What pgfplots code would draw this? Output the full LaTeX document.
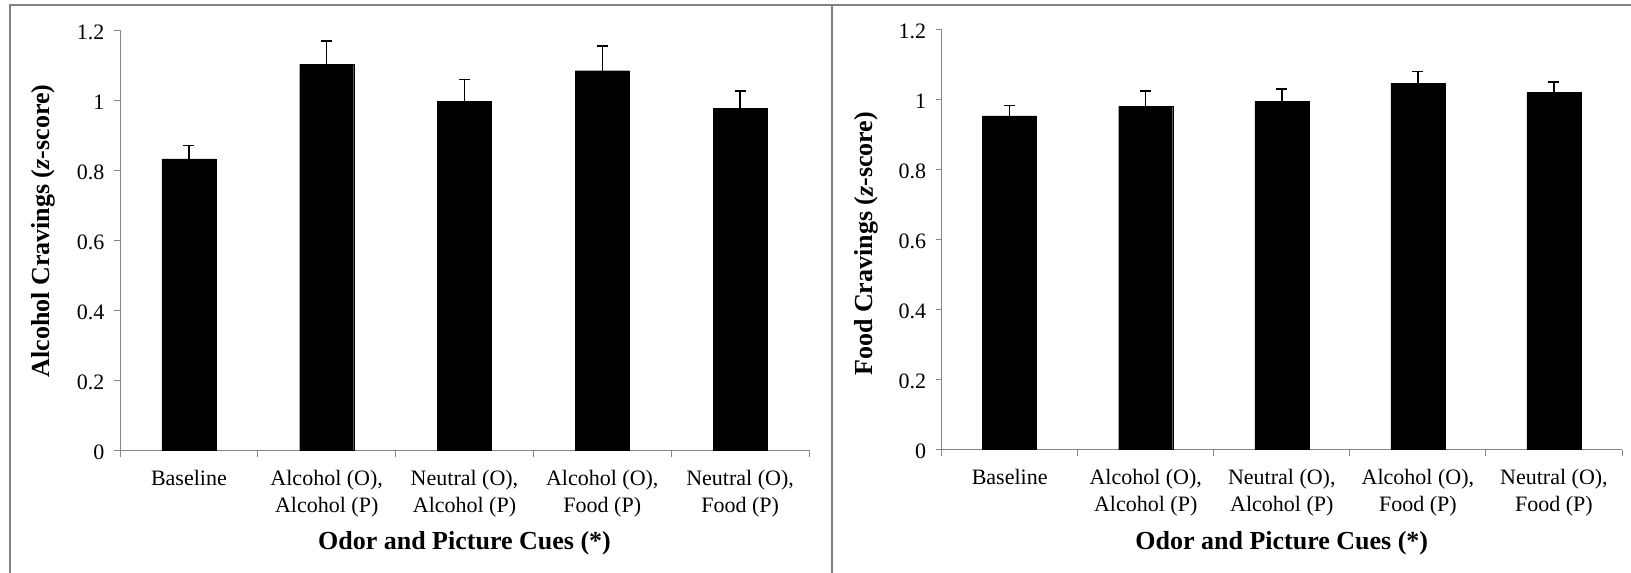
\documentclass[border=0pt]{standalone}
\usepackage{fontspec}
\setmainfont{Liberation Serif}
\usepackage{pgfplots}
\pgfplotsset{compat=1.18}
\definecolor{axgray}{RGB}{134,134,134}
\definecolor{boxgray}{RGB}{128,128,128}
\pgfplotsset{
  panel/.style={
    scale only axis, height=420pt,
    xmin=-0.5, xmax=4.5, ymin=0, ymax=1.2,
    axis x line*=bottom, axis y line*=left,
    axis line style={axgray, line width=1pt, -},
    every tick/.style={axgray, line width=1pt},
    tick align=outside,
    major tick length=6pt,
    ytick={0,0.2,0.4,0.6,0.8,1,1.2},
    yticklabels={0,0.2,0.4,0.6,0.8,1,1.2},
    xtick={-0.5,0.5,1.5,2.5,3.5,4.5},
    x tick label as interval,
    xticklabels={{Baseline},{Alcohol (O),\\Alcohol (P)},{Neutral (O),\\Alcohol (P)},{Alcohol (O),\\Food (P)},{Neutral (O),\\Food (P)}},
    ticklabel style={font=\fontsize{22}{27}\selectfont, black},
    xticklabel style={align=center, yshift=-10pt},
    yticklabel style={xshift=-6pt, yshift=-2pt},
    label style={font=\fontsize{26}{30}\selectfont\bfseries},
    xlabel={Odor and Picture Cues (*)},
    xlabel style={at={(axis description cs:0.5,-0.222)}, anchor=center},
    ylabel style={anchor=center},
    clip=false,
  },
  barplot/.style={
    ybar, bar width=54pt, bar shift=0pt, fill=black, draw=black,
    error bars/.cd, y dir=plus, y explicit, error mark=|,
    error bar style={black, line width=1.5pt},
    error mark options={black, line width=1.5pt, mark size=5.5pt},
  },
}
\begin{document}
\begin{tikzpicture}
\useasboundingbox (0,0) rectangle (1631pt,573pt);
\draw[boxgray, line width=2pt] (10pt,-10pt) -- (10pt,567.5pt) -- (1645pt,567.5pt);
\draw[boxgray, line width=2pt] (832pt,-10pt) -- (832pt,567.5pt);
\begin{axis}[panel, width=689pt, at={(120pt,122.5pt)}, anchor=south west,
  ylabel={Alcohol Cravings (\textit{z}-score)},
  ylabel style={at={(axis description cs:-0.1118,0.5226)}}]
\addplot[barplot] coordinates {
  (0,0.833) +- (0,0.038)
  (1,1.103) +- (0,0.067)
  (2,0.998) +- (0,0.062)
  (3,1.085) +- (0,0.070)
  (4,0.977) +- (0,0.050)
};
\end{axis}
\begin{axis}[panel, width=680.4pt, at={(941.6pt,123.3pt)}, anchor=south west,
  ylabel={Food Cravings (\textit{z}-score)},
  ylabel style={at={(axis description cs:-0.110,0.49)}}]
\addplot[barplot] coordinates {
  (0,0.954) +- (0,0.029)
  (1,0.981) +- (0,0.044)
  (2,0.995) +- (0,0.036)
  (3,1.047) +- (0,0.034)
  (4,1.020) +- (0,0.031)
};
\end{axis}
\end{tikzpicture}
\end{document}
